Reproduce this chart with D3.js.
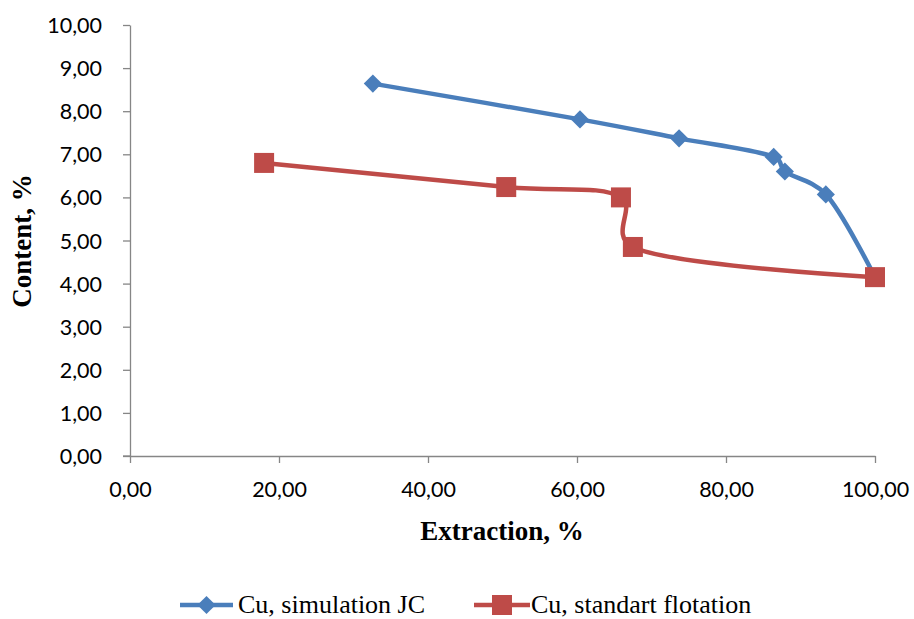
<!DOCTYPE html>
<html><head><meta charset="utf-8">
<script src="https://cdn.jsdelivr.net/npm/d3@7"></script>
<style>body{margin:0;background:#fff}svg{display:block}</style>
</head><body>
<script>
const simX = [32.6, 60.4, 73.7, 86.4, 87.9, 93.4, 100.0];
const simY = [8.64, 7.81, 7.37, 6.94, 6.60, 6.07, 4.15];
const stdX = [18.0, 50.5, 65.9, 67.5, 100.0];
const stdY = [6.80, 6.24, 6.00, 4.85, 4.15];
const xTicks = [0, 20, 40, 60, 80, 100];
const yTicks = [0,1,2,3,4,5,6,7,8,9,10];
const seriesNames = ["Cu, simulation JC", "Cu, standart flotation"];
const colors = ["#4a7ebb", "#be4b48"];

const W = 914, H = 619;
const svg = d3.select("body").append("svg").attr("width", W).attr("height", H);
const x = d3.scaleLinear().domain([0,100]).range([130,875]);
const y = d3.scaleLinear().domain([0,10]).range([456,25]);
const fmt = v => d3.format(".2f")(v).replace(".", ",");
const tickFont = "Lato, 'Open Sans', sans-serif";
const serif = "'Liberation Serif', 'Times New Roman', serif";

const xa = svg.append("g").attr("transform","translate(0,456)")
  .call(d3.axisBottom(x).tickValues(xTicks).tickFormat(fmt).tickSize(7).tickSizeOuter(0));
const ya = svg.append("g").attr("transform","translate(130,0)")
  .call(d3.axisLeft(y).tickValues(yTicks).tickFormat(fmt).tickSize(7).tickSizeOuter(0));
[xa, ya].forEach(g => {
  g.select(".domain").attr("stroke","#868686").attr("stroke-width",1.3);
  g.selectAll(".tick line").attr("stroke","#868686").attr("stroke-width",1.3);
  g.selectAll("text").attr("fill","#000").style("font-family",tickFont).style("font-size","21.5px");
});
xa.selectAll("text").attr("y",26).attr("dy","0.71em");
ya.selectAll("text").attr("x",-28).attr("dy","0.35em");
svg.append("line").attr("x1",123).attr("x2",130).attr("y1",456).attr("y2",456).attr("stroke","#868686").attr("stroke-width",1.3);

svg.append("text").attr("x",502).attr("y",540).attr("text-anchor","middle")
  .style("font-family",serif).style("font-weight","bold").style("font-size","27px")
  .text("Extraction, %");
svg.append("text").attr("transform","translate(31,241) rotate(-90)").attr("text-anchor","middle")
  .style("font-family",serif).style("font-weight","bold").style("font-size","27px")
  .text("Content, %");

const line = d3.line().x(d=>x(d[0])).y(d=>y(d[1])).curve(d3.curveCatmullRom.alpha(0.25));
const simData = simX.map((v,i)=>[v, simY[i]]);
const stdData = stdX.map((v,i)=>[v, stdY[i]]);

svg.append("path").datum(simData).attr("d",line).attr("fill","none").attr("stroke",colors[0]).attr("stroke-width",4.5).attr("stroke-linejoin","round");
svg.append("path").datum(stdData).attr("d",line).attr("fill","none").attr("stroke",colors[1]).attr("stroke-width",4.5).attr("stroke-linejoin","round");

const diamond = d3.symbol().type(d3.symbolSquare).size(165);
svg.selectAll(".dm").data(simData).enter().append("path")
  .attr("d", diamond).attr("transform", d=>`translate(${x(d[0])},${y(d[1])}) rotate(45)`).attr("fill",colors[0]);
svg.selectAll(".sq").data(stdData).enter().append("rect")
  .attr("x", d=>x(d[0])-10).attr("y", d=>y(d[1])-10).attr("width",20).attr("height",20).attr("fill",colors[1]);

// legend
const ly = 604;
const leg = [{x0:180, x1:233, t:238}, {x0:474, x1:530, t:531}];
leg.forEach((l,i)=>{
  svg.append("line").attr("x1",l.x0).attr("x2",l.x1).attr("y1",ly+1).attr("y2",ly+1).attr("stroke",colors[i]).attr("stroke-width",4.5);
  const cx = (l.x0+l.x1)/2;
  if (i===0) svg.append("path").attr("d",diamond).attr("transform",`translate(${cx},${ly+1}) rotate(45)`).attr("fill",colors[i]);
  else svg.append("rect").attr("x",cx-10).attr("y",ly-9).attr("width",20).attr("height",20).attr("fill",colors[i]);
  svg.append("text").attr("x",l.t).attr("y",ly).attr("dy","0.35em")
    .style("font-family",serif).style("font-size","26px").text(seriesNames[i]);
});
</script>
</body></html>
